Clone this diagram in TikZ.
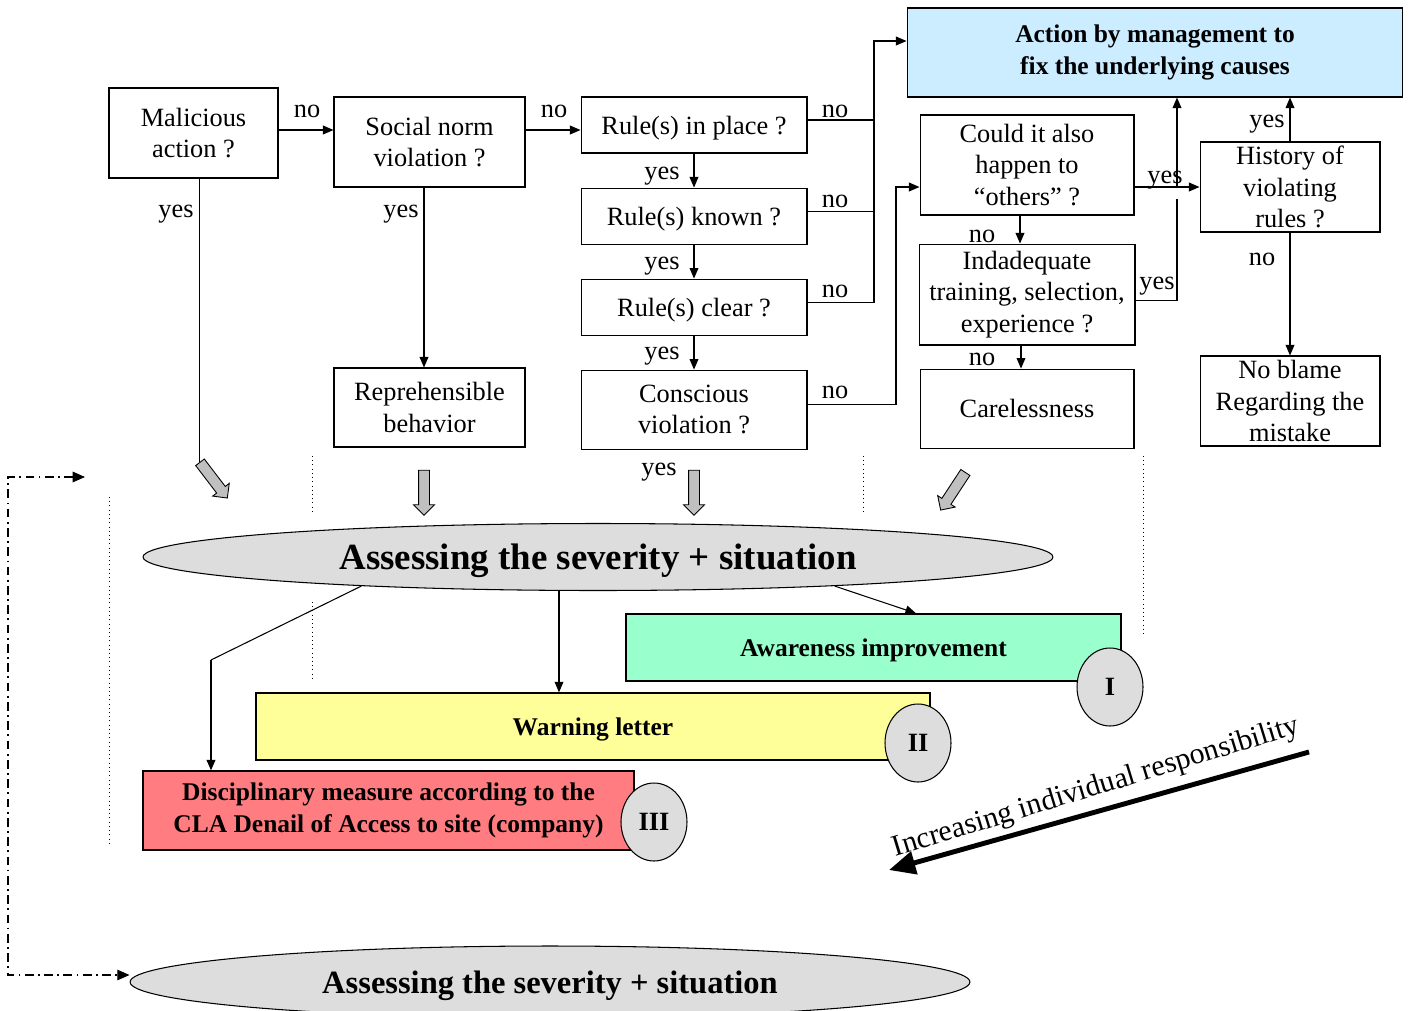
\documentclass[tikz,border=0pt]{standalone}
\usepackage{fontspec}
\setmainfont{Liberation Serif}
\usepackage{tikz}
\usetikzlibrary{shapes.geometric,shapes.arrows,arrows.meta,positioning,calc}
\definecolor{actblue}{RGB}{204,236,255}
\definecolor{awgreen}{RGB}{153,255,204}
\definecolor{warnyellow}{RGB}{255,255,153}
\definecolor{discred}{RGB}{255,124,128}
\definecolor{assessgray}{RGB}{221,221,221}
\definecolor{blockgray}{RGB}{192,192,192}

\begin{document}
\begin{tikzpicture}[
  x=0.02cm, y=-0.02cm,
  font=\fontsize{15}{18}\selectfont,
  box/.style={rectangle, draw, line width=0.6pt, align=center, inner sep=0pt},
  qbox/.style={box, minimum width=4.52cm, minimum height=1.12cm, text depth=0pt},
  measure/.style={box, line width=0.8pt, font=\fontsize{14.5}{18}\selectfont\bfseries},
  assess/.style={ellipse, draw, fill=assessgray, line width=0.6pt, inner sep=0pt, text depth=0pt},
  level/.style={ellipse, draw, fill=assessgray, line width=0.6pt, inner sep=0pt,
                minimum width=1.32cm, minimum height=1.56cm,
                font=\fontsize{15}{18}\selectfont\bfseries},
  blockarr/.style={single arrow, draw, fill=blockgray, line width=0.5pt,
                   inner sep=0.1cm, single arrow head extend=0.1cm,
                   single arrow head indent=0pt, minimum height=0.9cm},
  lbl/.style={inner sep=0pt},
  link/.style={line width=0.6pt},
  arr/.style={-{Triangle[length=6pt,width=5pt]}, line width=0.6pt},
  sep/.style={dotted, line width=0.4pt},
  fb/.style={line width=0.6pt, dash pattern=on 5pt off 2.5pt on 1pt off 2.5pt}
]
  \useasboundingbox (0,0) rectangle (1410,1011);

  \node[box, minimum width=3.38cm, minimum height=1.8cm] (mal) at (193.5,133) {Malicious\\action ?};
  \node[box, minimum width=3.82cm, minimum height=1.8cm] (soc) at (429.5,142) {Social norm\\violation ?};
  \node[box, minimum width=3.82cm, minimum height=1.58cm, below=3.6cm of soc] (repr) {Reprehensible\\behavior};

  \node[qbox] (rip) at (694,125) {Rule(s) in place ?};
  \node[qbox, below=0.68cm of rip] (rkn) {Rule(s) known ?};
  \node[qbox, below=0.68cm of rkn] (rcl) {Rule(s) clear ?};
  \node[box, minimum width=4.52cm, minimum height=1.58cm, below=0.68cm of rcl] (cons) {Conscious\\violation ?};

  \node[measure, line width=0.6pt, fill=actblue, minimum width=9.92cm, minimum height=1.78cm] (act) at (1155,52.5) {Action by management to\\fix the underlying causes};
  \node[box, minimum width=4.28cm, minimum height=2cm] (oth) at (1027,165) {Could it also\\happen to\\“others” ?};
  \node[box, minimum width=4.32cm, minimum height=2.02cm, below=0.56cm of oth] (inad) {Indadequate\\training, selection,\\experience ?};
  \node[box, minimum width=4.28cm, minimum height=1.58cm, below=0.46cm of inad] (care) {Carelessness};
  \node[box, minimum width=3.6cm, minimum height=1.8cm] (hist) at (1290,187) {History of\\violating\\rules ?};
  \node[box, minimum width=3.6cm, minimum height=1.8cm] (nob) at (1290,401) {No blame\\Regarding the\\mistake};

  \node[lbl] (n1) at (307,111) {no};
  \node[lbl] (n2) at (554,111) {no};
  \node[lbl] (n3) at (835,111) {no};
  \node[lbl] (n4) at (835,201) {no};
  \node[lbl] (n5) at (835,291) {no};
  \node[lbl] (n6) at (835,392) {no};
  \node[lbl] (n7) at (982,236) {no};
  \node[lbl] (n8) at (982,359) {no};
  \node[lbl] (n9) at (1262,259) {no};
  \node[lbl] (y1) at (176,214) {yes};
  \node[lbl] (y2) at (401,214) {yes};
  \node[lbl] (y3) at (662,176) {yes};
  \node[lbl] (y4) at (662,266) {yes};
  \node[lbl] (y5) at (662,356) {yes};
  \node[lbl] (y6) at (659,472) {yes};
  \node[lbl] (y7) at (1165,180) {yes};
  \node[lbl] (y8) at (1157,286) {yes};
  \node[lbl] (y9) at (1267,124) {yes};

  \draw[arr] ([yshift=0.06cm]mal.east) -- ([yshift=0.06cm]mal.east -| soc.west);
  \draw[arr] ([yshift=0.24cm]soc.east) -- ([yshift=0.24cm]soc.east -| rip.west);
  \draw[arr] ([xshift=-0.11cm]soc.south) -- ([xshift=-0.11cm]soc.south |- repr.north);
  \draw[arr] (rip) -- (rkn);
  \draw[arr] (rkn) -- (rcl);
  \draw[arr] (rcl) -- (cons);

  \coordinate (nojoin) at (874,41);
  \draw[link] ([yshift=0.1cm]rip.east) -- ([yshift=0.1cm]rip.east -| nojoin);
  \draw[link] ([yshift=0.1cm]rkn.east) -- ([yshift=0.1cm]rkn.east -| nojoin);
  \draw[arr] ([yshift=0.1cm]rcl.east) -| (nojoin) -- (nojoin -| act.west);
  \coordinate (consjoin) at (896,187);
  \draw[arr] ([yshift=0.11cm]cons.east) -| (consjoin) -- (consjoin -| oth.west);

  \draw[arr] (oth.east |- hist.west) -- (hist.west);
  \coordinate (yesjoin) at (1177,187);
  \draw[arr] (yesjoin) -- (yesjoin |- act.south);
  \coordinate (inadjoin) at (1177,199);
  \draw[link] ([yshift=-0.11cm]inad.east) -| (inadjoin);
  \draw[arr] ([xshift=-0.14cm]oth.south) -- ([xshift=-0.14cm]oth.south |- inad.north);
  \draw[arr] ([xshift=-0.12cm]inad.south) -- ([xshift=-0.12cm]inad.south |- care.north);
  \draw[arr] (hist.north) -- (hist.north |- act.south);
  \draw[arr] (hist) -- (nob);

  \node[blockarr, rotate=-52.6] (ga1) at (212,478) {};
  \node[blockarr, rotate=-90] (ga2) at (424,490) {};
  \node[blockarr, rotate=-90] (ga3) at (694,490) {};
  \node[blockarr, rotate=-123.3] (ga4) at (954.5,489) {};
  \draw[link] (mal.south -| ga1.tail) -- (ga1.tail);

  \draw[sep] (312,456) -- (312,512);
  \draw[sep] (312,602) -- (312,679);
  \draw[sep] (863,456) -- (863,512);
  \draw[sep] (1143,456) -- (1143,635);
  \draw[sep] (109,497) -- (109,845);

  \node[assess, minimum width=18.2cm, minimum height=1.34cm, font=\fontsize{21}{24}\selectfont\bfseries] (sev) at (598,557) {Assessing the severity + situation};

  \node[measure, text depth=0pt, fill=awgreen, minimum width=9.9cm, minimum height=1.34cm] (aw) at (873.5,647.5) {Awareness improvement};
  \node[level] (lv1) at (1110,687) {I};
  \node[measure, text depth=0pt, fill=warnyellow, minimum width=13.48cm, minimum height=1.34cm] (warn) at (593,726.5) {Warning letter};
  \node[level] (lv2) at (918,743) {II};
  \node[measure, fill=discred, minimum width=9.82cm, minimum height=1.58cm] (disc) at (388.5,810.5) {Disciplinary measure according to the\\CLA Denail of Access to site (company)};
  \node[level] (lv3) at (654,822) {III};

  \coordinate (sevbend) at (211,660);
  \draw[link] (sev.187) -- (sevbend);
  \draw[arr, line width=1pt] (sevbend) -- (sevbend |- disc.north);
  \draw[arr] ([xshift=-0.78cm]sev.south) -- ([xshift=-0.78cm]sev.south |- warn.north);
  \draw[arr] (sev.353) -- ([xshift=0.85cm]aw.north);

  \coordinate (respA) at (1309,752);
  \coordinate (respB) at (889,870);
  \draw[line width=2.8pt, -{Triangle[length=15pt,width=13pt]}] (respA) -- (respB);
  \node[rotate=17, font=\fontsize{17}{20}\selectfont] (resp) at (1096,788) {Increasing individual responsibility};

  \node[assess, minimum width=16.8cm, minimum height=1.44cm, font=\fontsize{18.5}{22}\selectfont\bfseries] (sev2) at (550,982) {Assessing the severity + situation};

  \coordinate (fbtop) at (85,477);
  \coordinate (fbbot) at (8,975);
  \draw[fb, {Triangle[length=7pt,width=6pt]}-{Triangle[length=7pt,width=6pt]}] (fbtop) -| (fbbot) -- (fbbot -| sev2.west);
\end{tikzpicture}
\end{document}
